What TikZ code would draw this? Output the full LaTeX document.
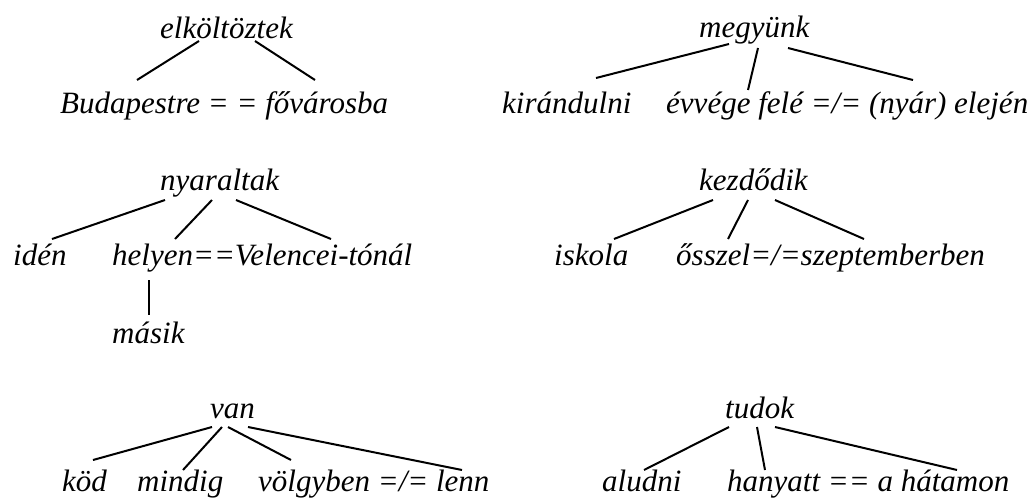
\documentclass[tikz,border=0pt]{standalone}
\usepackage{fontspec}
\setmainfont{Liberation Serif}
\begin{document}
\begin{tikzpicture}[x=1pt,y=-1pt,
  word/.style={anchor=base west,inner sep=0pt,font=\fontsize{31}{37}\selectfont\itshape},
  edge/.style={line width=2pt}]
\useasboundingbox (0,0) rectangle (1036,498);
% tree 1
\node[word] (t1) at (160,38) {elköltöztek};
\node[word] (t1a) at (60,113) {Budapestre = = fővárosba};
\coordinate (t1p1) at (199,41); \coordinate (t1c1) at (137,80);
\coordinate (t1p2) at (255,41); \coordinate (t1c2) at (315,80);
\draw[edge] (t1p1) -- (t1c1); \draw[edge] (t1p2) -- (t1c2);
% tree 2
\node[word] (t2) at (699,37) {megyünk};
\node[word] (t2a) at (502,113) {kirándulni};
\node[word] (t2b) at (666,113) {évvége felé =/= (nyár) elején};
\coordinate (t2p1) at (729,44); \coordinate (t2c1) at (596,78);
\coordinate (t2p2) at (758,48); \coordinate (t2c2) at (748,90);
\coordinate (t2p3) at (788,48); \coordinate (t2c3) at (913,80);
\draw[edge] (t2p1) -- (t2c1); \draw[edge] (t2p2) -- (t2c2); \draw[edge] (t2p3) -- (t2c3);
% tree 3
\node[word] (t3) at (160,190) {nyaraltak};
\node[word] (t3a) at (13,265) {idén};
\node[word] (t3b) at (112,265) {helyen==Velencei-tónál};
\node[word] (t3c) at (112,343) {másik};
\coordinate (t3p1) at (165,200); \coordinate (t3c1) at (52,239);
\coordinate (t3p2) at (212,200); \coordinate (t3c2) at (175,239);
\coordinate (t3p3) at (236,200); \coordinate (t3c3) at (331,239);
\coordinate (t3p4) at (149,280); \coordinate (t3c4) at (149,315);
\draw[edge] (t3p1) -- (t3c1); \draw[edge] (t3p2) -- (t3c2); \draw[edge] (t3p3) -- (t3c3);
\draw[edge] (t3p4) -- (t3c4);
% tree 4
\node[word] (t4) at (699,190) {kezdődik};
\node[word] (t4a) at (554,265) {iskola};
\node[word] (t4b) at (676,265) {ősszel=/=szeptemberben};
\coordinate (t4p1) at (713,200); \coordinate (t4c1) at (614,239);
\coordinate (t4p2) at (748,200); \coordinate (t4c2) at (728,239);
\coordinate (t4p3) at (775,200); \coordinate (t4c3) at (864,239);
\draw[edge] (t4p1) -- (t4c1); \draw[edge] (t4p2) -- (t4c2); \draw[edge] (t4p3) -- (t4c3);
% tree 5
\node[word] (t5) at (210,418) {van};
\node[word] (t5a) at (62,491) {köd};
\node[word] (t5b) at (137,491) {mindig};
\node[word] (t5c) at (258,491) {völgyben =/= lenn};
\coordinate (t5p1) at (212,427); \coordinate (t5c1) at (93,460);
\coordinate (t5p2) at (222,427); \coordinate (t5c2) at (183,470);
\coordinate (t5p3) at (228,427); \coordinate (t5c3) at (291,460);
\coordinate (t5p4) at (248,427); \coordinate (t5c4) at (462,470);
\draw[edge] (t5p1) -- (t5c1); \draw[edge] (t5p2) -- (t5c2); \draw[edge] (t5p3) -- (t5c3); \draw[edge] (t5p4) -- (t5c4);
% tree 6
\node[word] (t6) at (725,418) {tudok};
\node[word] (t6a) at (602,491) {aludni};
\node[word] (t6b) at (727,491) {hanyatt == a hátamon};
\coordinate (t6p1) at (729,427); \coordinate (t6c1) at (644,470);
\coordinate (t6p2) at (757,427); \coordinate (t6c2) at (765,470);
\coordinate (t6p3) at (775,427); \coordinate (t6c3) at (957,470);
\draw[edge] (t6p1) -- (t6c1); \draw[edge] (t6p2) -- (t6c2); \draw[edge] (t6p3) -- (t6c3);
\end{tikzpicture}
\end{document}
